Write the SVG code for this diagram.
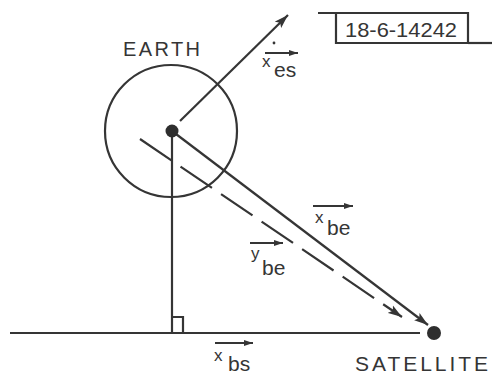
<svg xmlns="http://www.w3.org/2000/svg" width="492" height="377" viewBox="0 0 492 377">
<style>
.ln{stroke:#353535;stroke-width:2.2;fill:none;stroke-linecap:butt}
.t{font-family:"Liberation Sans",Arial,sans-serif;fill:#353535}
.cap{font-size:20px}
.v{font-size:17px}
.s{font-size:21px}
</style>
<defs>
<marker id="ah" markerUnits="userSpaceOnUse" markerWidth="16" markerHeight="10" refX="14" refY="5" orient="auto">
<path d="M0,0.5 L14,5 L0,9.5 L3,5 Z" fill="#353535"/>
</marker>
<marker id="sa" markerUnits="userSpaceOnUse" markerWidth="9" markerHeight="6" refX="9" refY="3" orient="auto">
<path d="M0,0 L9,3 L0,6 Z" fill="#353535"/>
</marker>
</defs>
<rect width="492" height="377" fill="#ffffff"/>
<g id="frame-label">
<path class="ln" d="M318,13 H468 V43 H336 V13"/>
<path class="ln" d="M468,43 H492"/>
<text class="t" x="345" y="37" font-size="21" textLength="112" lengthAdjust="spacingAndGlyphs">18-6-14242</text>
</g>
<g id="connectors">
<line class="ln" x1="180" y1="121" x2="288" y2="15" marker-end="url(#ah)"/>
<line class="ln" x1="172" y1="131" x2="428" y2="325" marker-end="url(#ah)"/>
<line class="ln" x1="140" y1="139" x2="402" y2="317" stroke-dasharray="38 11" marker-end="url(#ah)"/>
<line class="ln" x1="172" y1="131" x2="172" y2="333"/>
<line class="ln" x1="10" y1="333" x2="420" y2="333"/>
<path class="ln" d="M172,317 H183 V333"/>
</g>
<g id="earth">
<circle class="ln" cx="171" cy="131" r="66"/>
<circle cx="172" cy="131" r="6.5" fill="#2e2e2e"/>
<text class="t cap" x="123" y="56" textLength="77" lengthAdjust="spacing">EARTH</text>
</g>
<g id="satellite">
<circle cx="434" cy="333" r="7" fill="#2e2e2e"/>
<text class="t" x="355" y="371" font-size="21" textLength="133" lengthAdjust="spacing">SATELLITE</text>
</g>
<g id="label-xes">
<circle cx="274" cy="43" r="1.4" fill="#353535"/>
<line class="ln" x1="265" y1="53" x2="298" y2="53" stroke-width="1.6" marker-end="url(#sa)"/>
<text class="t v" x="262" y="67">x</text>
<text class="t s" x="274" y="77">es</text>
</g>
<g id="label-xbe">
<line class="ln" x1="313" y1="206" x2="353" y2="206" stroke-width="1.6" marker-end="url(#sa)"/>
<text class="t v" x="315" y="223">x</text>
<text class="t s" x="327" y="235">be</text>
</g>
<g id="label-ybe">
<line class="ln" x1="250" y1="243" x2="283" y2="243" stroke-width="1.6" marker-end="url(#sa)"/>
<text class="t v" x="251" y="259">y</text>
<text class="t s" x="262" y="275">be</text>
</g>
<g id="label-xbs">
<line class="ln" x1="215" y1="343" x2="253" y2="343" stroke-width="1.6" marker-end="url(#sa)"/>
<text class="t v" x="214" y="361">x</text>
<text class="t s" x="228" y="371">bs</text>
</g>
</svg>
